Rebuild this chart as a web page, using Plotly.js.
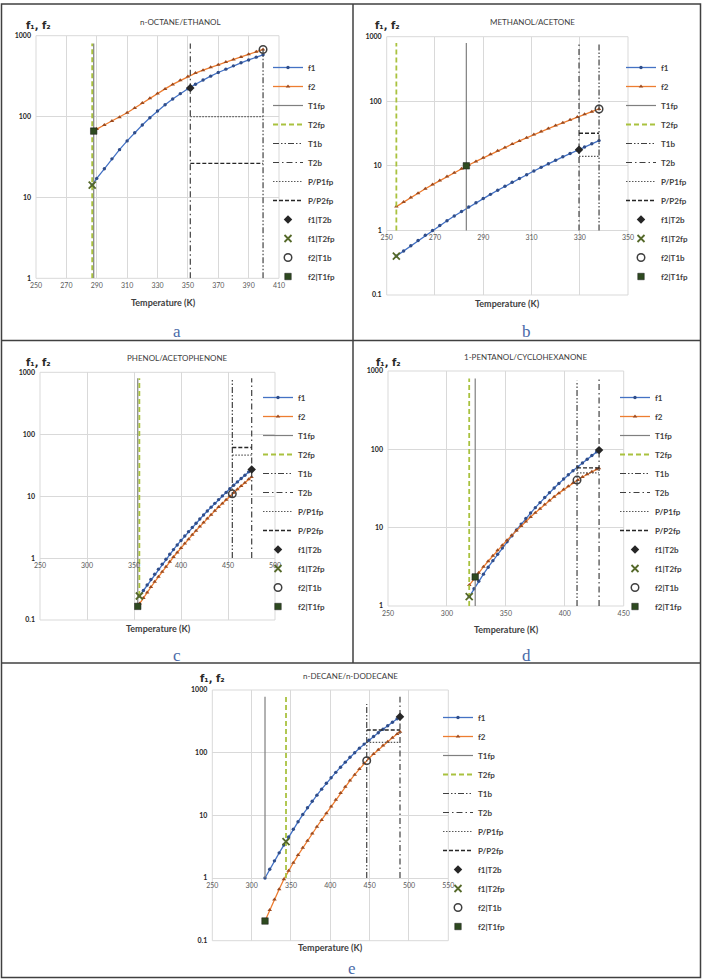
<!DOCTYPE html>
<html>
<head>
<meta charset="utf-8">
<script src="https://cdn.plot.ly/plotly-3.0.1.min.js"></script>
<style>html,body{margin:0;padding:0;background:#fff;}#chart{width:704px;height:979px;}</style>
</head>
<body>
<div id="chart"></div>
<script>
// ---------------- DATA ----------------
const seriesNames = ['f1','f2','T1fp','T2fp','T1b','T2b','P/P1fp','P/P2fp','f1|T2b','f1|T2fp','f2|T1b','f2|T1fp'];
const panelTitles = ['n-OCTANE/ETHANOL','METHANOL/ACETONE','PHENOL/ACETOPHENONE','1-PENTANOL/CYCLOHEXANONE','n-DECANE/n-DODECANE'];
const panelLetters = ['a','b','c','d','e'];
const yAxisLabel = 'f₁, f₂';
const xAxisLabel = 'Temperature (K)';
const yTickVals = [0.1, 1, 10, 100, 1000];
const yTickText = ['0.1', '1', '10', '100', '1000'];

// Panel a : n-octane / ethanol
const aT1 = [287,290,295,300,305,310,315,320,325,330,335,340,345,350,355,360,365,370,375,380,385,390,395,399.5];
const aF1 = [14.2,17.2,22.6,30,39,50,63,78.5,96.6,117,140,165,192,221,251,283,316,351,386,424,462,501,543,580];
const aT2 = [288,290,295,300,305,310,315,320,325,330,335,340,345,350,355,360,365,370,375,380,385,390,395,399.5];
const aF2 = [66.1,70.0,78.7,88.1,98.1,111.4,127.4,146.8,168.7,193,220,250,280.5,313,345,375,406,438,472,508,546,588,631,676];
const aFlash = [288, 287];          // T1fp, T2fp
const aBoil = [399.5, 351.6];       // T1b, T2b
const aVLow = [1, 1, 1, 1];         // T1fp, T2fp, T1b, T2b
const aVHigh = [800, 800, 676, 800];
const aPratio = [100, 26.4];        // P/P1fp, P/P2fp
const aMarkF = [226, 14.2, 676, 66.1]; // f1|T2b, f1|T2fp, f2|T1b, f2|T1fp
const aXTicks = [250,270,290,310,330,350,370,390,410];

// Panel b : methanol / acetone
const bT = [254,257,260,263,266,269,272,275,278,281,284,287,290,293,296,299,302,305,308,311,314,317,320,323,326,329,332,335,338];
const bF1 = [0.40,0.48,0.58,0.70,0.84,1.0,1.19,1.41,1.67,1.96,2.3,2.68,3.12,3.62,4.19,4.83,5.56,6.38,7.3,8.33,9.48,10.8,12.2,13.8,15.5,17.5,19.6,22.0,24.6];
const bF2 = [2.34,2.76,3.24,3.78,4.41,5.12,5.92,6.82,7.85,9.0,10.3,11.7,13.3,15.1,17.1,19.3,21.7,24.3,27.3,30.5,34.0,37.8,42.0,46.6,51.6,57.0,62.8,69.1,76.0];
const bFlash = [283, 254];
const bBoil = [338, 329.7];
const bVLow = [1, 1, 1, 1];
const bVHigh = [800, 800, 760, 760];
const bPratio = [14, 32];
const bMarkF = [17.7, 0.40, 76, 10.0];
const bXTicks = [250,270,290,310,330,350];

// Panel c : phenol / acetophenone
const cT1 = [355.7,360,364,368,372,376,380,384,388,392,396,400,404,408,412,416,420,424,428,432,436,440,444,448,452,456,460,464,468,472,475];
const cF1 = [0.244,0.300,0.368,0.450,0.547,0.662,0.798,0.959,1.15,1.37,1.63,1.92,2.27,2.67,3.13,3.66,4.27,4.96,5.75,6.64,7.65,8.80,10.1,11.5,13.2,15.0,17.0,19.3,21.8,24.7,27.0];
const cT2 = [354,356,360,364,368,372,376,380,384,388,392,396,400,404,408,412,416,420,424,428,432,436,440,444,448,452,456,460,464,468,472,475];
const cF2 = [0.166,0.185,0.227,0.279,0.340,0.414,0.501,0.604,0.726,0.869,1.04,1.23,1.46,1.72,2.02,2.37,2.77,3.23,3.75,4.35,5.03,5.79,6.66,7.64,8.74,9.97,11.4,12.9,14.6,16.5,18.7,20.4];
const cFlash = [354, 355.7];
const cBoil = [454.6, 475.2];
const cVLow = [0.166, 0.244, 1, 1];
const cVHigh = [800, 800, 800, 800];
const cPratio = [46, 61];
const cMarkF = [27.0, 0.244, 10.9, 0.166];
const cXTicks = [250,300,350,400,450,500];

// Panel d : 1-pentanol / cyclohexanone
const dT = [319,323,327,331,335,339,343,347,351,355,359,363,367,371,375,379,383,387,391,395,399,403,407,411,415,419,423,427,429];
const dF1 = [1.32,1.66,2.07,2.55,3.13,3.79,4.58,5.51,6.59,7.85,9.35,11.1,13.1,15.4,18.0,20.9,24.3,28.0,32.1,36.7,41.8,47.3,53.3,59.8,67.0,74.8,83.4,92.7,97.7];
const dF2 = [1.85,2.23,2.66,3.16,3.73,4.39,5.13,5.97,6.92,7.98,9.18,10.5,12.0,13.7,15.5,17.5,19.8,22.2,24.8,27.6,30.6,33.8,37.2,40.6,44.3,48.0,51.8,55.6,57.5];
const dFlash = [324, 318.9];
const dBoil = [410.4, 429.1];
const dVLow = [1, 1, 1, 1];
const dVHigh = [800, 800, 750, 800];
const dPratio = [50, 58];
const dMarkF = [97.7, 1.32, 40.5, 2.35];
const dXTicks = [250,300,350,400,450];

// Panel e : n-decane / n-dodecane
const eT = [317,323,329,335,341,347,353,359,365,371,377,383,389,395,401,407,413,419,425,431,437,443,449,455,461,467,473,479,485,488.6];
const eF1 = [1.00,1.38,1.88,2.52,3.36,4.51,5.99,7.89,10.3,13.2,16.8,21.0,26.2,32.5,39.8,48.5,58.7,70.6,84.6,100,118,137,158,181,208,237,269,305,347,375];
const eF2 = [0.206,0.308,0.455,0.663,0.954,1.31,1.75,2.32,3.04,3.95,5.12,6.58,8.44,10.8,13.8,17.8,22.8,28.7,35.9,44.6,55.1,67.8,80.9,95.1,111,130,150,173,199,216];
const eFlash = [317, 343.7];
const eBoil = [446.3, 488.6];
const eVLow = [1, 1, 1, 1];
const eVHigh = [780, 780, 600, 780];
const ePratio = [146, 230];
const eMarkF = [375, 3.8, 74.5, 0.206];
const eXTicks = [250,300,350,400,450,500,550];

// ---------------- LAYOUT GEOMETRY (pixels) ----------------
const W = 704, H = 979;
const FONT = 'Lato, "Open Sans", "DejaVu Sans", sans-serif';
const panels = [
  {t1:aT1,f1:aF1,t2:aT2,f2:aF2,flash:aFlash,boil:aBoil,vlo:aVLow,vhi:aVHigh,pr:aPratio,mk:aMarkF,xt:aXTicks,
   xr:[250,410], yr:[0,3], box:[36,279,35.7,278.3], title:[180,22], fy:[38,25], xtitle:[163,302], letter:[177,331], leg:[268,172]},
  {t1:bT,f1:bF1,t2:bT,f2:bF2,flash:bFlash,boil:bBoil,vlo:bVLow,vhi:bVHigh,pr:bPratio,mk:bMarkF,xt:bXTicks,
   xr:[250,350], yr:[-1,3], box:[386.7,628,36.7,295], title:[532,22], fy:[387,25], xtitle:[507,303], letter:[526,331], leg:[621,172]},
  {t1:cT1,f1:cF1,t2:cT2,f2:cF2,flash:cFlash,boil:cBoil,vlo:cVLow,vhi:cVHigh,pr:cPratio,mk:cMarkF,xt:cXTicks,
   xr:[250,500], yr:[-1,3], box:[40,275,372.3,620], title:[177,358], fy:[38,362], xtitle:[158,628], letter:[177,655], leg:[258,502]},
  {t1:dT,f1:dF1,t2:dT,f2:dF2,flash:dFlash,boil:dBoil,vlo:dVLow,vhi:dVHigh,pr:dPratio,mk:dMarkF,xt:dXTicks,
   xr:[250,450], yr:[0,3], box:[388,623.7,371,606], title:[525,357], fy:[388,362], xtitle:[506,629], letter:[526,655], leg:[615,502]},
  {t1:eT,f1:eF1,t2:eT,f2:eF2,flash:eFlash,boil:eBoil,vlo:eVLow,vhi:eVHigh,pr:ePratio,mk:eMarkF,xt:eXTicks,
   xr:[250,550], yr:[-1,3], box:[212.3,448.3,690,940.7], title:[350,676], fy:[212,678], xtitle:[330,947], letter:[352,968], leg:[438,822]}
];

const px = v => v / W;
const py = v => 1 - v / H;
const bold = s => '<b>' + s + '</b>';

const traces = [];
const layout = {
  width: W, height: H,
  margin: {l:0, r:0, t:0, b:0},
  paper_bgcolor: '#ffffff', plot_bgcolor: '#ffffff',
  showlegend: true,
  annotations: [], shapes: []
};

panels.forEach((p, i) => {
  const k = i === 0 ? '' : String(i + 1);
  const xa = 'x' + k, ya = 'y' + k, lg = 'legend' + k;
  const base = {xaxis: xa, yaxis: ya, legend: lg, hoverinfo: 'skip'};
  const bLo = Math.min(p.boil[0], p.boil[1]), bHi = Math.max(p.boil[0], p.boil[1]);
  const nm = j => bold(seriesNames[j]);

  traces.push(Object.assign({}, base, {name: nm(0), x: p.t1, y: p.f1, mode: 'lines+markers',
    line: {color: '#4472C4', width: 1.3}, marker: {symbol: 'circle', size: 3.4, color: '#2F4D8A'}}));
  traces.push(Object.assign({}, base, {name: nm(1), x: p.t2, y: p.f2, mode: 'lines+markers',
    line: {color: '#ED7D31', width: 1.3}, marker: {symbol: 'triangle-up', size: 4, color: '#9C4A1E'}}));
  traces.push(Object.assign({}, base, {name: nm(2), x: [p.flash[0], p.flash[0]], y: [p.vlo[0], p.vhi[0]], mode: 'lines',
    line: {color: '#7F7F7F', width: 1.2}}));
  traces.push(Object.assign({}, base, {name: nm(3), x: [p.flash[1], p.flash[1]], y: [p.vlo[1], p.vhi[1]], mode: 'lines',
    line: {color: '#A9C23F', width: 1.8, dash: '5px,3px'}}));
  traces.push(Object.assign({}, base, {name: nm(4), x: [p.boil[0], p.boil[0]], y: [p.vlo[2], p.vhi[2]], mode: 'lines',
    line: {color: '#404040', width: 1.2, dash: '6px,2px,1.5px,2px,1.5px,2px'}}));
  traces.push(Object.assign({}, base, {name: nm(5), x: [p.boil[1], p.boil[1]], y: [p.vlo[3], p.vhi[3]], mode: 'lines',
    line: {color: '#404040', width: 1.2, dash: '6px,3px,1.5px,3px'}}));
  traces.push(Object.assign({}, base, {name: nm(6), x: [bLo, bHi], y: [p.pr[0], p.pr[0]], mode: 'lines',
    line: {color: '#595959', width: 1.2, dash: '1.5px,1.5px'}}));
  traces.push(Object.assign({}, base, {name: nm(7), x: [bLo, bHi], y: [p.pr[1], p.pr[1]], mode: 'lines',
    line: {color: '#262626', width: 1.4, dash: '4px,2px'}}));
  traces.push(Object.assign({}, base, {name: nm(8), x: [p.boil[1]], y: [p.mk[0]], mode: 'markers',
    marker: {symbol: 'diamond', size: 6.5, color: '#262626'}}));
  traces.push(Object.assign({}, base, {name: nm(9), x: [p.flash[1]], y: [p.mk[1]], mode: 'markers',
    marker: {symbol: 'x-thin-open', size: 7, color: '#55692A', line: {color: '#55692A', width: 1.8}}}));
  traces.push(Object.assign({}, base, {name: nm(10), x: [p.boil[0]], y: [p.mk[2]], mode: 'markers',
    marker: {symbol: 'circle-open', size: 7.5, color: '#404040', line: {color: '#404040', width: 1.5}}}));
  traces.push(Object.assign({}, base, {name: nm(11), x: [p.flash[0]], y: [p.mk[3]], mode: 'markers',
    marker: {symbol: 'square', size: 6.5, color: '#2E4A20', line: {color: '#1a1a1a', width: 0.5}}}));

  const dx = [px(p.box[0]), px(p.box[1])];
  const dy = [py(p.box[3]), py(p.box[2])];
  const oneFrac = (0 - p.yr[0]) / (p.yr[1] - p.yr[0]);
  layout['xaxis' + k] = {
    domain: dx, range: p.xr, anchor: 'free', position: dy[0] + oneFrac * (dy[1] - dy[0]),
    tickmode: 'array', tickvals: p.xt, ticktext: p.xt.map(String),
    showgrid: true, gridcolor: '#D9D9D9', gridwidth: 1, zeroline: false, showline: false, ticks: '',
    ticklabelstandoff: 2,
    tickfont: {family: FONT, size: 7, color: '#595959'}, fixedrange: true
  };
  layout['yaxis' + k] = {
    domain: dy, type: 'log', range: p.yr, anchor: xa,
    tickmode: 'array', tickvals: yTickVals, ticktext: yTickText.map(bold),
    showgrid: true, gridcolor: '#D9D9D9', gridwidth: 1, zeroline: false, showline: false, ticks: '',
    ticklabelstandoff: 4,
    tickfont: {family: FONT, size: 7, color: '#262626'}, fixedrange: true
  };
  layout[lg] = {
    x: px(p.leg[0]), xanchor: 'left', y: py(p.leg[1]), yanchor: 'middle',
    bgcolor: 'rgba(0,0,0,0)', borderwidth: 0, tracegroupgap: 0, itemwidth: 30,
    font: {family: FONT, size: 8, color: '#404040'}
  };
  layout.shapes.push({type: 'rect', xref: xa + ' domain', yref: ya + ' domain', x0: 0, x1: 1, y0: 0, y1: 1,
    line: {color: '#D9D9D9', width: 1}, layer: 'below'});

  layout.annotations.push({text: panelTitles[i], x: px(p.title[0]), y: py(p.title[1]), xref: 'paper', yref: 'paper',
    xanchor: 'center', yanchor: 'middle', showarrow: false, font: {family: FONT, size: 8, color: '#404040'}});
  layout.annotations.push({text: bold(yAxisLabel), x: px(p.fy[0]), y: py(p.fy[1]), xref: 'paper', yref: 'paper',
    xanchor: 'center', yanchor: 'middle', showarrow: false, font: {family: '"DejaVu Sans", sans-serif', size: 10, color: '#262626'}});
  layout.annotations.push({text: bold(xAxisLabel), x: px(p.xtitle[0]), y: py(p.xtitle[1]), xref: 'paper', yref: 'paper',
    xanchor: 'center', yanchor: 'middle', showarrow: false, font: {family: FONT, size: 9, color: '#404040'}});
  layout.annotations.push({text: panelLetters[i], x: px(p.letter[0]), y: py(p.letter[1]), xref: 'paper', yref: 'paper',
    xanchor: 'center', yanchor: 'middle', showarrow: false, font: {family: '"Liberation Serif", "DejaVu Serif", serif', size: 17, color: '#4A6AA8'}});
});

// Figure frame and separators
const frameLine = {color: '#404040', width: 1.5};
layout.shapes.push({type: 'rect', xref: 'paper', yref: 'paper', x0: px(1.5), x1: px(700.5), y0: py(977.5), y1: py(4), line: frameLine});
layout.shapes.push({type: 'line', xref: 'paper', yref: 'paper', x0: px(353), x1: px(353), y0: py(663), y1: py(4), line: frameLine});
layout.shapes.push({type: 'line', xref: 'paper', yref: 'paper', x0: px(1.5), x1: px(700.5), y0: py(340.5), y1: py(340.5), line: frameLine});
layout.shapes.push({type: 'line', xref: 'paper', yref: 'paper', x0: px(1.5), x1: px(700.5), y0: py(663), y1: py(663), line: frameLine});

Plotly.newPlot('chart', traces, layout, {displayModeBar: false, staticPlot: true});
</script>
</body>
</html>
